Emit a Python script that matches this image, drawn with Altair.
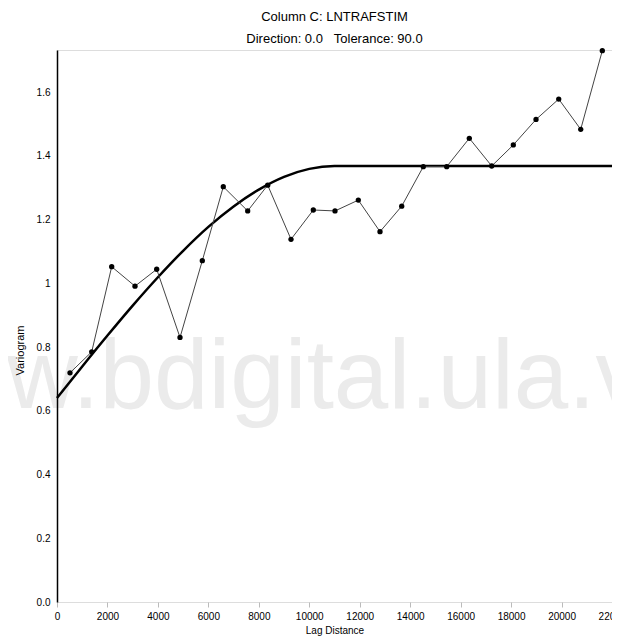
import altair as alt
import pandas as pd

lag = [515, 1376, 2168, 3092, 3952, 4876, 5760, 6592, 7559, 8352, 9276, 10160,
       11020, 11944, 12804, 13664, 14520, 15448, 16344, 17232, 18088, 18988,
       19888, 20760, 21616]
gamma = [0.719, 0.785, 1.052, 0.991, 1.044, 0.830, 1.071, 1.303, 1.227, 1.308,
         1.138, 1.230, 1.227, 1.261, 1.162, 1.242, 1.366, 1.366, 1.455, 1.368,
         1.434, 1.514, 1.578, 1.483, 1.730]

# Fitted model curve
model_lag = [0, 1000, 2000, 3000, 4000, 5000, 6000, 7000, 8000, 9000, 10000, 11000, 22000]
model_gamma = [0.640, 0.739, 0.836, 0.930, 1.019, 1.102, 1.177, 1.241, 1.294,
               1.334, 1.359, 1.368, 1.368]

x_ticks = [0, 2000, 4000, 6000, 8000, 10000, 12000, 14000, 16000, 18000, 20000, 22000]
y_ticks = [0, 0.2, 0.4, 0.6, 0.8, 1.0, 1.2, 1.4, 1.6]

title_lines = ["Column C: LNTRAFSTIM", "Direction: 0.0\u00a0\u00a0\u00a0Tolerance: 90.0"]
watermark = "w.bdigital.ula.v"

exp_df = pd.DataFrame({"lag": lag, "gamma": gamma})
mod_df = pd.DataFrame({"lag": model_lag, "gamma": model_gamma})
wm_df = pd.DataFrame({"t": [watermark]})

FONT = "Liberation Sans"

x_scale = alt.Scale(domain=[0, 22000], nice=False, zero=True)
y_scale = alt.Scale(domain=[0, 1.732], nice=False, zero=True)

x_enc = alt.X("lag:Q", scale=x_scale, title="Lag Distance",
              axis=alt.Axis(values=x_ticks, format="d", labelFlush=False, labelOverlap=False,
                            domain=False, ticks=True, tickSize=5, tickColor="#bbbbbb",
                            tickWidth=1, grid=False, labelFont=FONT, labelFontSize=10,
                            labelColor="black", labelPadding=4, titleFont=FONT,
                            titleFontSize=10, titleFontWeight="normal", titleColor="black",
                            titlePadding=4, zindex=1))
y_enc = alt.Y("gamma:Q", scale=y_scale, title="Variogram",
              axis=alt.Axis(values=y_ticks, labelExpr="datum.value == 1 ? '1' : format(datum.value, '.1f')",
                            domain=True, domainColor="black", domainWidth=1.5,
                            ticks=False, grid=False, labelFont=FONT, labelFontSize=10,
                            labelColor="black", labelPadding=7, titleFont=FONT,
                            titleFontSize=11, titleFontWeight="normal", titleColor="black",
                            titleX=-32, titleY=300, zindex=1))

wm = alt.Chart(wm_df).mark_text(
    font=FONT, fontSize=98, color="#ebebeb", align="left", baseline="alphabetic"
).encode(x=alt.value(-50), y=alt.value(358), text="t:N")

exp_line = alt.Chart(exp_df).mark_line(color="#444444", strokeWidth=1).encode(x=x_enc, y=y_enc)
exp_pts = alt.Chart(exp_df).mark_point(filled=True, color="black", size=28, opacity=1).encode(x=x_enc, y=y_enc)
model = alt.Chart(mod_df).mark_line(color="black", strokeWidth=2.5, interpolate="monotone").encode(x=x_enc, y=y_enc)

chart = alt.layer(wm, model, exp_line, exp_pts).properties(
    width=555, height=552,
    title=alt.TitleParams(text=title_lines, font=FONT, fontSize=13, fontWeight="normal",
                          color="black", lineHeight=22, offset=2, anchor="middle"),
    autosize=alt.AutoSizeParams(type="none"),
    padding={"left": 49, "top": 42, "right": 0, "bottom": 39},
).configure_view(stroke=None).configure(background="white")

chart.save("out.html", embed_options={"renderer": "svg", "actions": False})
